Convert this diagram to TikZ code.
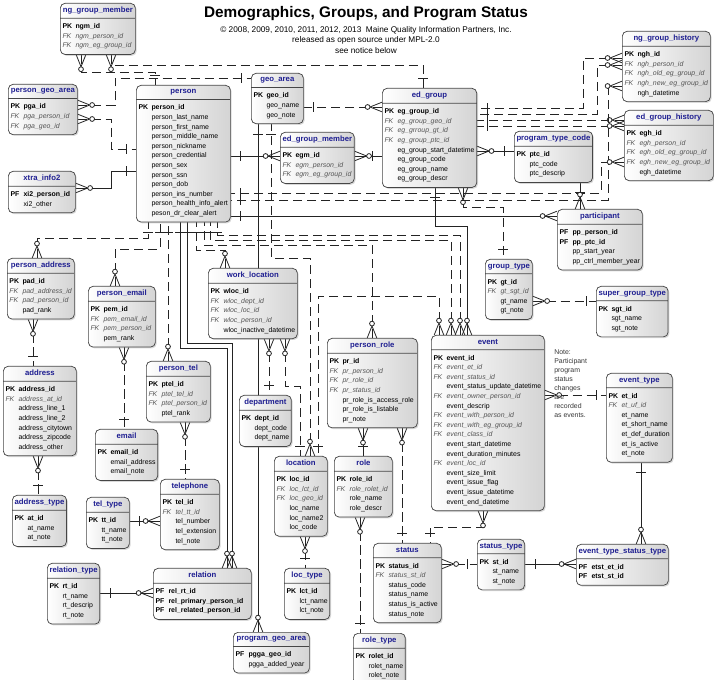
\documentclass[tikz,border=0pt]{standalone}
\usepackage{fontspec}
\setmainfont{Liberation Sans}
\usetikzlibrary{shapes.multipart,shadows}

\definecolor{titleblue}{RGB}{30,30,145}
\definecolor{fkgray}{RGB}{85,85,85}
\definecolor{attgray}{RGB}{55,55,55}
\definecolor{boxline}{RGB}{70,70,70}
\definecolor{boxshade}{RGB}{212,212,212}
\definecolor{linkgray}{RGB}{35,35,35}

\pgfdeclarelayer{bg}
\pgfsetlayers{bg,main}

% zero-or-many end (crow's foot with circle)
\pgfdeclarearrow{
  name = Crowo,
  setup code = {
    \pgfarrowssettipend{0pt}
    \pgfarrowssetlineend{0pt}
    \pgfarrowsupperhullpoint{0pt}{3.6pt}
    \pgfarrowsupperhullpoint{-13pt}{2pt}
  },
  drawing code = {
    \pgfsetdash{}{0pt}
    \pgfpathmoveto{\pgfqpoint{-9pt}{0pt}}
    \pgfpathlineto{\pgfqpoint{0pt}{3.6pt}}
    \pgfpathmoveto{\pgfqpoint{-9pt}{0pt}}
    \pgfpathlineto{\pgfqpoint{0pt}{-3.6pt}}
    \pgfusepathqstroke
    \pgfpathcircle{\pgfqpoint{-10.8pt}{0pt}}{1.8pt}
    \pgfsetfillcolor{white}
    \pgfusepathqfillstroke
  }
}
% exactly-one end (bar)
\pgfdeclarearrow{
  name = Onebar,
  setup code = {
    \pgfarrowssettipend{0pt}
    \pgfarrowssetlineend{0pt}
    \pgfarrowsupperhullpoint{-7.5pt}{3.6pt}
  },
  drawing code = {
    \pgfsetdash{}{0pt}
    \pgfpathmoveto{\pgfqpoint{-7.5pt}{-3.6pt}}
    \pgfpathlineto{\pgfqpoint{-7.5pt}{3.6pt}}
    \pgfusepathqstroke
  }
}

\tikzstyle{entity} = [rectangle split, rectangle split parts=2, rectangle split part align={center,left}, draw=boxline, line width=0.55pt, rounded corners=3.5pt, left color=white, right color=boxshade, drop shadow={opacity=0.3, shadow xshift=1pt, shadow yshift=-1pt}, inner xsep=1.6pt, inner ysep=2.5pt, font=\fontsize{5.2}{7.2}\selectfont, text=attgray, anchor=north west]
\tikzstyle{rel} = [draw=linkgray, line width=0.6pt]
\tikzstyle{nrel} = [rel, dash pattern=on 7pt off 3.5pt]
\tikzstyle{notetext} = [font=\fontsize{5.2}{6.85}\selectfont, align=left, inner sep=0pt, text=attgray]
\tikzset{ewidth/.style={minimum width=#1*0.75pt}}

\newcommand{\etitle}[1]{{\fontsize{5.8}{7}\selectfont\bfseries\color{titleblue}\rule[-1.4pt]{0pt}{5pt}#1}}
\newcommand{\attrs}[1]{\begin{tabular}{@{}l@{}}#1\end{tabular}}
\newcommand{\kpk}[1]{\makebox[9.75pt][l]{\textcolor{black}{\bfseries PK}}\textcolor{black}{\bfseries #1}}
\newcommand{\kpf}[1]{\makebox[9.75pt][l]{\textcolor{black}{\bfseries PF}}\textcolor{black}{\bfseries #1}}
\newcommand{\kfk}[1]{\makebox[9.75pt][l]{\textcolor{fkgray}{\itshape FK}}\textcolor{fkgray}{\itshape #1}}
\newcommand{\katt}[1]{\hspace*{9.75pt}#1}

\begin{document}
\begin{tikzpicture}[x=0.75pt, y=-0.75pt]
  \useasboundingbox (0,0) rectangle (714,680);

  \node (title) [font=\fontsize{11.5}{14}\selectfont\bfseries, inner sep=0pt] at (366,14) {Demographics, Groups, and Program Status};
  \node (notice) [font=\fontsize{6.2}{7.9}\selectfont, align=center, inner sep=0pt, anchor=north] at (366,26) {\textcopyright\ 2008, 2009, 2010, 2011, 2012, 2013\ \ Maine Quality Information Partners, Inc.\\released as open source under MPL-2.0\\see notice below};

  \node (ngm) [entity, ewidth=75] at (60,3) {\etitle{ng\_group\_member}\nodepart{two}\attrs{\kpk{ngm\_id}\\ \kfk{ngm\_person\_id}\\ \kfk{ngm\_eg\_group\_id}}};
  \node (pga) [entity, ewidth=69] at (8,84) {\etitle{person\_geo\_area}\nodepart{two}\attrs{\kpk{pga\_id}\\ \kfk{pga\_person\_id}\\ \kfk{pga\_geo\_id}}};
  \node (xi2) [entity, ewidth=67] at (8,171) {\etitle{xtra\_info2}\nodepart{two}\attrs{\kpf{xi2\_person\_id}\\ \katt{xi2\_other}}};
  \node (person) [entity, ewidth=94] at (136,85) {\etitle{person}\nodepart{two}\attrs{\kpk{person\_id}\\ \katt{person\_last\_name}\\ \katt{person\_first\_name}\\ \katt{person\_middle\_name}\\ \katt{person\_nickname}\\ \katt{person\_credential}\\ \katt{person\_sex}\\ \katt{person\_ssn}\\ \katt{person\_dob}\\ \katt{person\_ins\_number}\\ \katt{person\_health\_info\_alert}\\ \katt{peson\_dr\_clear\_alert}}};
  \node (geoarea) [entity, ewidth=52] at (251,73) {\etitle{geo\_area}\nodepart{two}\attrs{\kpk{geo\_id}\\ \katt{geo\_name}\\ \katt{geo\_note}}};
  \node (egm) [entity, ewidth=73] at (280,132) {\etitle{ed\_group\_member}\nodepart{two}\attrs{\kpk{egm\_id}\\ \kfk{egm\_person\_id}\\ \kfk{egm\_eg\_group\_id}}};
  \node (edgroup) [entity, ewidth=94] at (382,88) {\etitle{ed\_group}\nodepart{two}\attrs{\kpk{eg\_group\_id}\\ \kfk{eg\_group\_geo\_id}\\ \kfk{eg\_grroup\_gt\_id}\\ \kfk{eg\_group\_ptc\_id}\\ \katt{eg\_group\_start\_datetime}\\ \katt{eg\_group\_code}\\ \katt{eg\_group\_name}\\ \katt{eg\_group\_descr}}};
  \node (ngh) [entity, ewidth=88] at (622,31) {\etitle{ng\_group\_history}\nodepart{two}\attrs{\kpk{ngh\_id}\\ \kfk{ngh\_person\_id}\\ \kfk{ngh\_old\_eg\_group\_id}\\ \kfk{ngh\_new\_eg\_group\_id}\\ \katt{ngh\_datetime}}};
  \node (egh) [entity, ewidth=89] at (624,110) {\etitle{ed\_group\_history}\nodepart{two}\attrs{\kpk{egh\_id}\\ \kfk{egh\_person\_id}\\ \kfk{egh\_old\_eg\_group\_id}\\ \kfk{egh\_new\_eg\_group\_id}\\ \katt{egh\_datetime}}};
  \node (ptc) [entity, ewidth=77] at (514,131) {\etitle{program\_type\_code}\nodepart{two}\attrs{\kpk{ptc\_id}\\ \katt{ptc\_code}\\ \katt{ptc\_descrip}}};
  \node (participant) [entity, ewidth=85] at (557,209) {\etitle{participant}\nodepart{two}\attrs{\kpf{pp\_person\_id}\\ \kpf{pp\_ptc\_id}\\ \katt{pp\_start\_year}\\ \katt{pp\_ctrl\_member\_year}}};
  \node (grouptype) [entity, ewidth=47] at (485,259) {\etitle{group\_type}\nodepart{two}\attrs{\kpk{gt\_id}\\ \kfk{gt\_sgt\_id}\\ \katt{gt\_name}\\ \katt{gt\_note}}};
  \node (sgt) [entity, ewidth=71] at (596,286) {\etitle{super\_group\_type}\nodepart{two}\attrs{\kpk{sgt\_id}\\ \katt{sgt\_name}\\ \katt{sgt\_note}}};
  \node (event) [entity, ewidth=113] at (431,335) {\etitle{event}\nodepart{two}\attrs{\kpk{event\_id}\\ \kfk{event\_et\_id}\\ \kfk{event\_status\_id}\\ \katt{event\_status\_update\_datetime}\\ \kfk{event\_owner\_person\_id}\\ \katt{event\_descrip}\\ \kfk{event\_with\_person\_id}\\ \kfk{event\_with\_eg\_group\_id}\\ \kfk{event\_class\_id}\\ \katt{event\_start\_datetime}\\ \katt{event\_duration\_minutes}\\ \kfk{event\_loc\_id}\\ \katt{event\_size\_limit}\\ \katt{event\_issue\_flag}\\ \katt{event\_issue\_datetime}\\ \katt{event\_end\_datetime}}};
  \node (note) [notetext, anchor=north west] at (554,349) {Note:\\Participant\\program\\status\\changes\\are\\recorded\\as events.};
  \node (eventtype) [entity, ewidth=66] at (606,373) {\etitle{event\_type}\nodepart{two}\attrs{\kpk{et\_id}\\ \kfk{et\_uf\_id}\\ \katt{et\_name}\\ \katt{et\_short\_name}\\ \katt{et\_def\_duration}\\ \katt{et\_is\_active}\\ \katt{et\_note}}};
  \node (etst) [entity, ewidth=92] at (576,544) {\etitle{event\_type\_status\_type}\nodepart{two}\attrs{\kpf{etst\_et\_id}\\ \kpf{etst\_st\_id}}};
  \node (statustype) [entity, ewidth=47] at (477,539) {\etitle{status\_type}\nodepart{two}\attrs{\kpk{st\_id}\\ \katt{st\_name}\\ \katt{st\_note}}};
  \node (status) [entity, ewidth=68] at (373,543) {\etitle{status}\nodepart{two}\attrs{\kpk{status\_id}\\ \kfk{status\_st\_id}\\ \katt{status\_code}\\ \katt{status\_name}\\ \katt{status\_is\_active}\\ \katt{status\_note}}};
  \node (roletype) [entity, ewidth=51] at (353,633) {\etitle{role\_type}\nodepart{two}\attrs{\kpk{rolet\_id}\\ \katt{rolet\_name}\\ \katt{rolet\_note}}};
  \node (role) [entity, ewidth=58] at (334,456) {\etitle{role}\nodepart{two}\attrs{\kpk{role\_id}\\ \kfk{role\_rolet\_id}\\ \katt{role\_name}\\ \katt{role\_descr}}};
  \node (location) [entity, ewidth=53] at (274,456) {\etitle{location}\nodepart{two}\attrs{\kpk{loc\_id}\\ \kfk{loc\_lct\_id}\\ \kfk{loc\_geo\_id}\\ \katt{loc\_name}\\ \katt{loc\_name2}\\ \katt{loc\_code}}};
  \node (loctype) [entity, ewidth=45] at (284,568) {\etitle{loc\_type}\nodepart{two}\attrs{\kpk{lct\_id}\\ \katt{lct\_name}\\ \katt{lct\_note}}};
  \node (pgeo) [entity, ewidth=76] at (233,632) {\etitle{program\_geo\_area}\nodepart{two}\attrs{\kpf{pgga\_geo\_id}\\ \katt{pgga\_added\_year}}};
  \node (relation) [entity, ewidth=98] at (153,568) {\etitle{relation}\nodepart{two}\attrs{\kpf{rel\_rt\_id}\\ \kpf{rel\_primary\_person\_id}\\ \kpf{rel\_related\_person\_id}}};
  \node (reltype) [entity, ewidth=51] at (47,563) {\etitle{relation\_type}\nodepart{two}\attrs{\kpk{rt\_id}\\ \katt{rt\_name}\\ \katt{rt\_descrip}\\ \katt{rt\_note}}};
  \node (teltype) [entity, ewidth=43] at (86,497) {\etitle{tel\_type}\nodepart{two}\attrs{\kpk{tt\_id}\\ \katt{tt\_name}\\ \katt{tt\_note}}};
  \node (telephone) [entity, ewidth=59] at (160,479) {\etitle{telephone}\nodepart{two}\attrs{\kpk{tel\_id}\\ \kfk{tel\_tt\_id}\\ \katt{tel\_number}\\ \katt{tel\_extension}\\ \katt{tel\_note}}};
  \node (addrtype) [entity, ewidth=53] at (12,495) {\etitle{address\_type}\nodepart{two}\attrs{\kpk{at\_id}\\ \katt{at\_name}\\ \katt{at\_note}}};
  \node (email) [entity, ewidth=61] at (95,429) {\etitle{email}\nodepart{two}\attrs{\kpk{email\_id}\\ \katt{email\_address}\\ \katt{email\_note}}};
  \node (address) [entity, ewidth=73] at (3,366) {\etitle{address}\nodepart{two}\attrs{\kpk{address\_id}\\ \kfk{address\_at\_id}\\ \katt{address\_line\_1}\\ \katt{address\_line\_2}\\ \katt{address\_citytown}\\ \katt{address\_zipcode}\\ \katt{address\_other}}};
  \node (paddr) [entity, ewidth=67] at (7,258) {\etitle{person\_address}\nodepart{two}\attrs{\kpk{pad\_id}\\ \kfk{pad\_address\_id}\\ \kfk{pad\_person\_id}\\ \katt{pad\_rank}}};
  \node (pemail) [entity, ewidth=67] at (88,286) {\etitle{person\_email}\nodepart{two}\attrs{\kpk{pem\_id}\\ \kfk{pem\_email\_id}\\ \kfk{pem\_person\_id}\\ \katt{pem\_rank}}};
  \node (ptel) [entity, ewidth=64] at (146,361) {\etitle{person\_tel}\nodepart{two}\attrs{\kpk{ptel\_id}\\ \kfk{ptel\_tel\_id}\\ \kfk{ptel\_person\_id}\\ \katt{ptel\_rank}}};
  \node (wloc) [entity, ewidth=89] at (208,268) {\etitle{work\_location}\nodepart{two}\attrs{\kpk{wloc\_id}\\ \kfk{wloc\_dept\_id}\\ \kfk{wloc\_loc\_id}\\ \kfk{wloc\_person\_id}\\ \katt{wloc\_inactive\_datetime}}};
  \node (dept) [entity, ewidth=50] at (239,395) {\etitle{department}\nodepart{two}\attrs{\kpk{dept\_id}\\ \katt{dept\_code}\\ \katt{dept\_name}}};
  \node (prole) [entity, ewidth=90] at (327,338) {\etitle{person\_role}\nodepart{two}\attrs{\kpk{pr\_id}\\ \kfk{pr\_person\_id}\\ \kfk{pr\_role\_id}\\ \kfk{pr\_status\_id}\\ \katt{pr\_role\_is\_access\_role}\\ \katt{pr\_role\_is\_listable}\\ \katt{pr\_note}}};

  \begin{pgfonlayer}{bg}
    % top left
    \draw [nrel, Crowo-Onebar] (ngm.south -| 81,0) |- (155,72) -- (person.north -| 155,0);
    \draw [nrel, Crowo-Onebar] (ngm.south -| 111,0) |- (423,65) -- (edgroup.north -| 423,0);
    \draw [nrel, Crowo-Onebar] (pga.east |- 0,105) -| (115,78) -- (geoarea.west |- 0,78);
    \draw [nrel, Crowo-Onebar] (pga.east |- 0,119) -| (111,149) -- (person.west |- 0,149);
    \draw [rel, Crowo-Onebar] (xi2.east |- 0,188) -| (111,171) -- (person.west |- 0,171);
    \draw [rel, Crowo-Onebar] (egm.west |- 0,156) -- (person.east |- 0,156);
    \draw [rel, Crowo-Onebar] (egm.east |- 0,156) -- (edgroup.west |- 0,156);
    \draw [nrel, Crowo-Onebar] (edgroup.west |- 0,107) -- (geoarea.east |- 0,107);

    % ed_group and histories
    \draw [nrel, Crowo-Onebar] (edgroup.south -| 463,0) |- (503,207) -- (grouptype.north -| 503,0);
    \draw [rel, Crowo-Onebar] (edgroup.east |- 0,151) -- (ptc.west |- 0,151);
    \draw [nrel, Crowo-Onebar] (ngh.west |- 0,58) -| (583,108) -- (edgroup.east |- 0,108);
    \draw [nrel, Crowo-Onebar] (ngh.west |- 0,65) -| (597,114) -- (edgroup.east |- 0,114);
    \draw [nrel, Crowo-Onebar] (egh.west |- 0,120) -- (edgroup.east |- 0,120);
    \draw [nrel, Crowo-Onebar] (egh.west |- 0,126) -- (edgroup.east |- 0,126);
    \draw [nrel, Crowo-Onebar] (ngh.west |- 0,86) -| (608,200) -- (person.east |- 0,200);
    \draw [nrel, Crowo-Onebar] (egh.west |- 0,162) -| (601,193) -- (person.east |- 0,193);
    \draw [rel, Crowo-Onebar] (participant.north -| 580,0) -- (ptc.south -| 580,0);
    \draw [rel, Crowo-Onebar] (participant.west |- 0,216) -- (person.east |- 0,216);
    \draw [nrel, Crowo-Onebar] (grouptype.east |- 0,301) -- (sgt.west |- 0,301);

    % under person
    \draw [nrel, Crowo-Onebar] (paddr.north -| 37,0) |- (148,238) -- (person.south -| 148,0);
    \draw [nrel, Crowo-Onebar] (paddr.south -| 33,0) -- (address.north -| 33,0);
    \draw [nrel, Crowo-Onebar] (address.south -| 38,0) -- (addrtype.north -| 38,0);
    \draw [nrel, Crowo-Onebar] (pemail.north -| 115,0) |- (160,249) -- (person.south -| 160,0);
    \draw [nrel, Crowo-Onebar] (pemail.south -| 124,0) -- (email.north -| 124,0);
    \draw [nrel, Crowo-Onebar] (ptel.north -| 168,0) -- (person.south -| 168,0);
    \draw [nrel, Crowo-Onebar] (ptel.south -| 185,0) -- (telephone.north -| 185,0);
    \draw [rel, Crowo-Onebar] (telephone.west |- 0,521) -- (teltype.east |- 0,521);
    \draw [rel, Crowo-Onebar] (relation.west |- 0,593) -- (reltype.east |- 0,593);
    \draw [rel, Crowo-Onebar] (relation.north -| 227,0) |- (180,348) -- (person.south -| 180,0);
    \draw [rel, Crowo-Onebar] (relation.north -| 232,0) |- (187,343) -- (person.south -| 187,0);

    % locations and roles
    \draw [nrel, Crowo-Onebar] (wloc.north -| 225,0) |- (196,250) -- (person.south -| 196,0);
    \draw [nrel, Crowo-Onebar] (wloc.south -| 269,0) -- (dept.north -| 269,0);
    \draw [nrel, Crowo-Onebar] (wloc.south -| 285,0) |- (300,386) -- (location.north -| 300,0);
    \draw [nrel, Crowo-Onebar] (location.south -| 305,0) -- (loctype.north -| 305,0);
    \draw [nrel, Crowo-Onebar] (location.north -| 310,0) |- (271,258) -- (geoarea.south -| 271,0);
    \draw [rel, Crowo-Onebar] (pgeo.north -| 258,0) -- (geoarea.south -| 258,0);
    \draw [nrel, Crowo-Onebar] (role.south -| 360,0) -- (roletype.north -| 360,0);
    \draw [nrel, Crowo-Onebar] (prole.north -| 372,0) |- (204,245) -- (person.south -| 204,0);
    \draw [rel, Crowo-Onebar] (prole.south -| 363,0) -- (role.north -| 363,0);
    \draw [nrel, Crowo-Onebar] (prole.south -| 402,0) -- (status.north -| 402,0);

    % event and status
    \draw [nrel, Crowo-Onebar] (event.east |- 0,395) -- (eventtype.west |- 0,395);
    \draw [nrel, Crowo-Onebar] (event.south -| 483,0) |- (430,527) -- (status.north -| 430,0);
    \draw [rel, Crowo-Onebar] (etst.north -| 641,0) -- (eventtype.south -| 641,0);
    \draw [rel, Crowo-Onebar] (etst.west |- 0,564) -- (statustype.east |- 0,564);
    \draw [nrel, Crowo-Onebar] (status.east |- 0,564) -- (statustype.west |- 0,564);
    \draw [nrel, Crowo-Onebar] (event.north -| 439,0) |- (318,296) -- (location.north -| 318,0);
    \draw [nrel, Crowo-Onebar] (event.north -| 451,0) |- (210,240) -- (person.south -| 210,0);
    \draw [nrel, Crowo-Onebar] (event.north -| 460,0) |- (217,235) -- (person.south -| 217,0);
    \draw [rel, Crowo-Onebar] (event.north -| 467,0) |- (435,226) -- (edgroup.south -| 435,0);
  \end{pgfonlayer}
\end{tikzpicture}
\end{document}
